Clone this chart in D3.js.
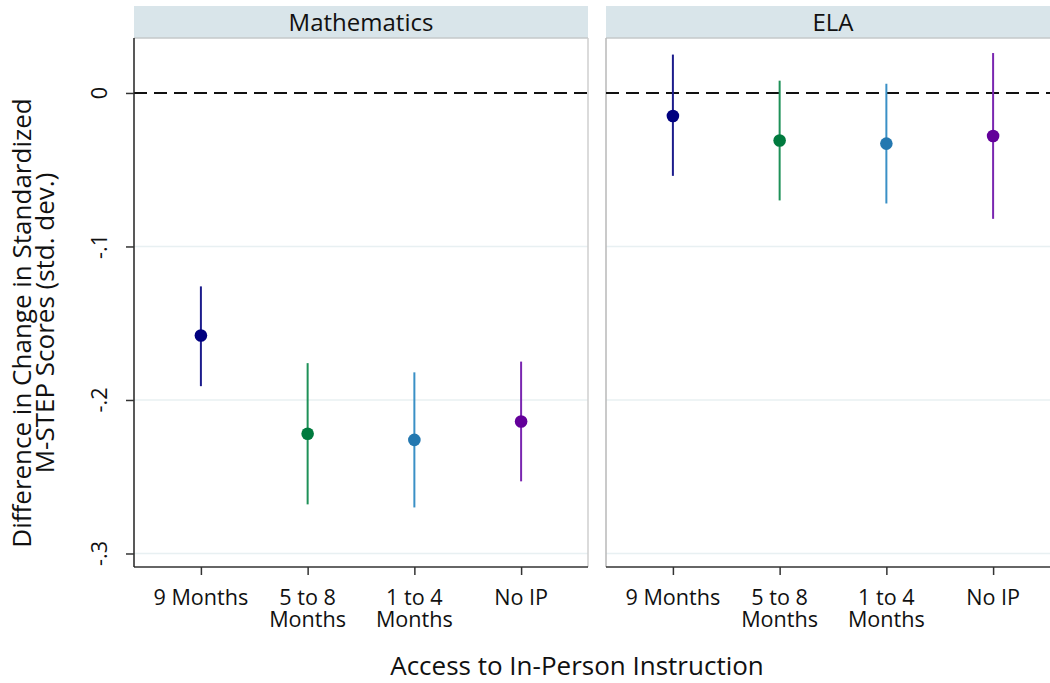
<!DOCTYPE html>
<html>
<head>
<meta charset="utf-8">
<script src="https://cdn.jsdelivr.net/npm/d3@7"></script>
<style>
  html, body { margin: 0; padding: 0; background: #fff; }
  svg { display: block; font-family: "Open Sans", "Noto Sans", sans-serif; }
</style>
</head>
<body>
<svg id="chart" width="1050" height="683"></svg>
<script>
// Subjects shown as facets
const subjects = ["Mathematics", "ELA"];
// Access groups along the x axis (multi-line labels)
const groups = ["9 Months", "5 to 8 Months", "1 to 4 Months", "No IP"];
const groupLabels = [["9 Months"], ["5 to 8", "Months"], ["1 to 4", "Months"], ["No IP"]];
// Point estimates and 95% confidence bounds, by subject
const mathEst = [-0.158, -0.222, -0.226, -0.214];
const mathLo  = [-0.191, -0.268, -0.270, -0.253];
const mathHi  = [-0.126, -0.176, -0.182, -0.175];
const elaEst  = [-0.015, -0.031, -0.033, -0.028];
const elaLo   = [-0.054, -0.070, -0.072, -0.082];
const elaHi   = [ 0.025,  0.008,  0.006,  0.026];
// Y axis ticks and their labels
const yTicks = [0, -0.1, -0.2, -0.3];
const yTickLabels = ["0", "-.1", "-.2", "-.3"];
// Marker colors (point fill, interval line) per group
const pointColors = ["#00007f", "#007a3e", "#2478b0", "#63009a"];
const lineColors  = ["#1c1c8c", "#1e9158", "#3a90c6", "#7a26b0"];

const series = {
  "Mathematics": { est: mathEst, lo: mathLo, hi: mathHi },
  "ELA": { est: elaEst, lo: elaLo, hi: elaHi }
};

const svg = d3.select("#chart");
const plotTop = 38, plotBottom = 567, stripTop = 6;
const panelWidth = 454;
const panelLefts = [134, 606];
const tickFont = 21.6, stripFont = 24, titleFont = 26;

const y = d3.scaleLinear().domain([-0.3088, 0.0358]).range([plotBottom, plotTop]);

subjects.forEach((subj, si) => {
  const x0 = panelLefts[si];
  const x = d3.scalePoint().domain(groups).range([x0 + 66.9, x0 + panelWidth - 66.9]);
  const g = svg.append("g");

  // header strip
  g.append("rect").attr("x", x0).attr("y", stripTop).attr("width", panelWidth)
    .attr("height", plotTop - stripTop).attr("fill", "#d9e5ea");
  g.append("line").attr("x1", x0).attr("x2", x0 + panelWidth)
    .attr("y1", plotTop).attr("y2", plotTop).attr("stroke", "#c4c8ca").attr("stroke-width", 1.5);
  g.append("text").attr("x", x0 + panelWidth / 2).attr("y", stripTop + (plotTop - stripTop) / 2)
    .attr("dy", "0.36em").attr("text-anchor", "middle").attr("font-size", stripFont).attr("fill", "#111")
    .text(subj);

  // gridlines
  g.selectAll(".grid").data(yTicks.filter(d => d !== 0)).enter().append("line")
    .attr("x1", x0).attr("x2", x0 + panelWidth)
    .attr("y1", d => y(d)).attr("y2", d => y(d))
    .attr("stroke", "#e8f0f2").attr("stroke-width", 1.5);

  // light panel border on the sides
  g.append("line").attr("x1", x0 + panelWidth).attr("x2", x0 + panelWidth)
    .attr("y1", plotTop).attr("y2", plotBottom).attr("stroke", "#cfcfcf").attr("stroke-width", 1.5);
  if (si > 0) {
    g.append("line").attr("x1", x0).attr("x2", x0)
      .attr("y1", plotTop).attr("y2", plotBottom).attr("stroke", "#b8b8b8").attr("stroke-width", 1.5);
  }

  // zero reference line
  g.append("line").attr("x1", x0).attr("x2", x0 + panelWidth)
    .attr("y1", y(0)).attr("y2", y(0))
    .attr("stroke", "#111").attr("stroke-width", 2).attr("stroke-dasharray", "13,7");

  // confidence intervals and point estimates
  const s = series[subj];
  const rows = groups.map((grp, i) => ({ grp, i, est: s.est[i], lo: s.lo[i], hi: s.hi[i] }));
  g.selectAll(".ci").data(rows).enter().append("line")
    .attr("x1", d => x(d.grp)).attr("x2", d => x(d.grp))
    .attr("y1", d => y(d.lo)).attr("y2", d => y(d.hi))
    .attr("stroke", d => lineColors[d.i]).attr("stroke-width", 2);
  g.selectAll(".pt").data(rows).enter().append("circle")
    .attr("cx", d => x(d.grp)).attr("cy", d => y(d.est)).attr("r", 6.3)
    .attr("fill", d => pointColors[d.i]);

  // x axis
  const xAxis = g.append("g").attr("transform", `translate(0,${plotBottom})`)
    .call(d3.axisBottom(x).tickSize(8).tickFormat(""));
  xAxis.select(".domain").attr("d", `M${x0},0H${x0 + panelWidth}`).attr("stroke", "#333").attr("stroke-width", 1.5);
  xAxis.selectAll(".tick line").attr("stroke", "#333").attr("stroke-width", 1.5);
  groups.forEach((d, i) => {
    groupLabels[i].forEach((line, li) => {
      g.append("text").attr("x", x(d)).attr("y", 605 + li * 21.5)
        .attr("text-anchor", "middle").attr("font-size", tickFont).attr("fill", "#111")
        .text(line);
    });
  });

  // y axis on the first panel only
  if (si === 0) {
    const yAxis = g.append("g").attr("transform", `translate(${x0},0)`)
      .call(d3.axisLeft(y).tickValues(yTicks).tickSize(8).tickFormat(""));
    yAxis.select(".domain").attr("d", `M0,${plotTop}V${plotBottom}`).attr("stroke", "#222").attr("stroke-width", 1.5);
    yAxis.selectAll(".tick line").attr("stroke", "#333").attr("stroke-width", 1.5);
    g.selectAll(".ylab").data(yTicks).enter().append("text")
      .attr("transform", (d, i) => `translate(${x0 - 27},${y(d)}) rotate(-90)`)
      .attr("text-anchor", "middle").attr("font-size", tickFont).attr("fill", "#111")
      .text((d, i) => yTickLabels[i]);
  }
});

// axis titles
const yTitleLines = ["Difference in Change in Standardized", "M-STEP Scores (std. dev.)"];
yTitleLines.forEach((line, i) => {
  svg.append("text").attr("transform", `translate(${31 + i * 23},323) rotate(-90)`)
    .attr("text-anchor", "middle").attr("font-size", titleFont).attr("fill", "#111")
    .text(line);
});

svg.append("text").attr("x", 577).attr("y", 675).attr("text-anchor", "middle")
  .attr("font-size", titleFont).attr("fill", "#111").text("Access to In-Person Instruction");
</script>
</body>
</html>
